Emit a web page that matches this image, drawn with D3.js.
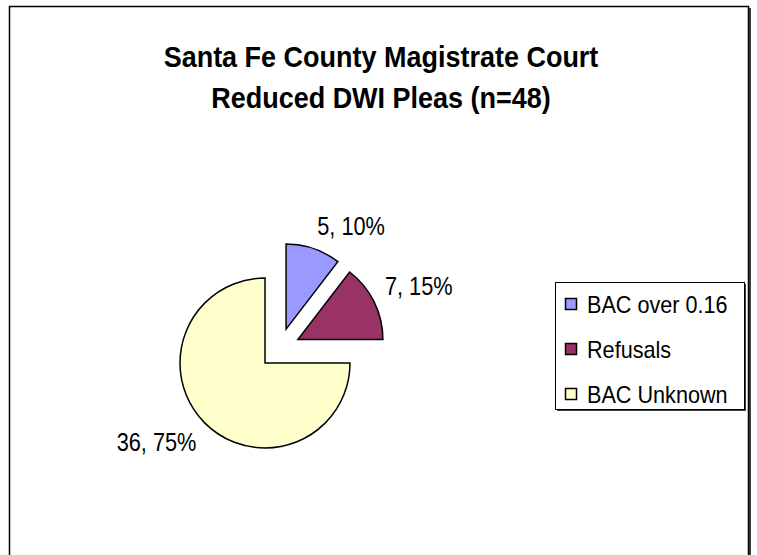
<!DOCTYPE html>
<html>
<head>
<meta charset="utf-8">
<script src="https://cdn.jsdelivr.net/npm/d3@7"></script>
<style>
  html, body { margin: 0; padding: 0; background: #ffffff; }
  svg { display: block; }
  text { font-family: "Liberation Sans", Arial, sans-serif; fill: #000; }
</style>
</head>
<body>
<svg id="chart" width="757" height="555"></svg>
<script>
// ---- data ----
const titleLines = ["Santa Fe County Magistrate Court", "Reduced DWI Pleas (n=48)"];
const categories = ["BAC over 0.16", "Refusals", "BAC Unknown"];
const counts = [5, 7, 36];
const percentLabels = ["10%", "15%", "75%"];
const colors = ["#9999FF", "#993366", "#FFFFCC"];

// ---- layout ----
const svg = d3.select("#chart");

// chart area frame (right edge with shadow, bottom off-canvas)
svg.append("rect").attr("x", 11).attr("y", 8).attr("width", 740).attr("height", 600)
  .attr("fill", "#404040");
svg.append("rect").attr("x", 9.5).attr("y", 6.5).attr("width", 739).attr("height", 600)
  .attr("fill", "#fff").attr("stroke", "#000").attr("stroke-width", 1.5);

// title (narrow-looking face: larger size, compressed horizontally)
svg.append("g").selectAll("text").data(titleLines).join("text")
  .attr("transform", (d, i) => `translate(381,${67 + i * 41}) scale(0.9,1)`)
  .attr("text-anchor", "middle")
  .style("font-size", "30px")
  .style("font-weight", "bold")
  .text(d => d);

// pie
const cx = 279.5, cy = 348.5, r = 85, explode = 20.5;
const pie = d3.pie().sort(null).startAngle(0).endAngle(2 * Math.PI);
const arcs = pie(counts);
const arc = d3.arc().innerRadius(0).outerRadius(r);

const g = svg.append("g").attr("transform", `translate(${cx},${cy})`);
g.selectAll("path").data(arcs).join("path")
  .attr("transform", d => {
    const a = (d.startAngle + d.endAngle) / 2;
    return `translate(${explode * Math.sin(a)},${-explode * Math.cos(a)})`;
  })
  .attr("d", arc)
  .attr("fill", (d, i) => colors[i])
  .attr("stroke", "#000")
  .attr("stroke-width", 1.5)
  .attr("stroke-linejoin", "miter");

// data labels
const labelDist = explode + r + 12;
g.selectAll("text.lbl").data(arcs).join("text")
  .attr("class", "lbl")
  .each(function (d, i) {
    const a = (d.startAngle + d.endAngle) / 2;
    const sx = Math.sin(a), sy = -Math.cos(a);
    const ax = labelDist * sx, ay = labelDist * sy;
    const y = sy < 0 ? ay - 2 : ay + 19;
    d3.select(this)
      .attr("transform", `translate(${ax},${y}) scale(0.87,1)`)
      .attr("text-anchor", sx >= 0 ? "start" : "end")
      .style("font-size", "25px")
      .text(`${counts[i]}, ${percentLabels[i]}`);
  });

// legend
const lg = svg.append("g");
lg.append("rect").attr("x", 557).attr("y", 284).attr("width", 189).attr("height", 127)
  .attr("fill", "#404040");
lg.append("rect").attr("x", 555.5).attr("y", 282.5).attr("width", 189).attr("height", 127)
  .attr("fill", "#fff").attr("stroke", "#000").attr("stroke-width", 1);
const rowY = d3.scalePoint().domain(categories).range([304, 394]);
const rows = lg.selectAll("g.row").data(categories).join("g")
  .attr("class", "row")
  .attr("transform", d => `translate(0,${rowY(d)})`);
rows.append("rect").attr("x", 565.5).attr("y", -5.5).attr("width", 11).attr("height", 11)
  .attr("fill", (d, i) => colors[i]).attr("stroke", "#000").attr("stroke-width", 1.5);
rows.append("text")
  .attr("transform", "translate(587,8.5) scale(0.94,1)")
  .style("font-size", "23px")
  .text(d => d);
</script>
</body>
</html>
